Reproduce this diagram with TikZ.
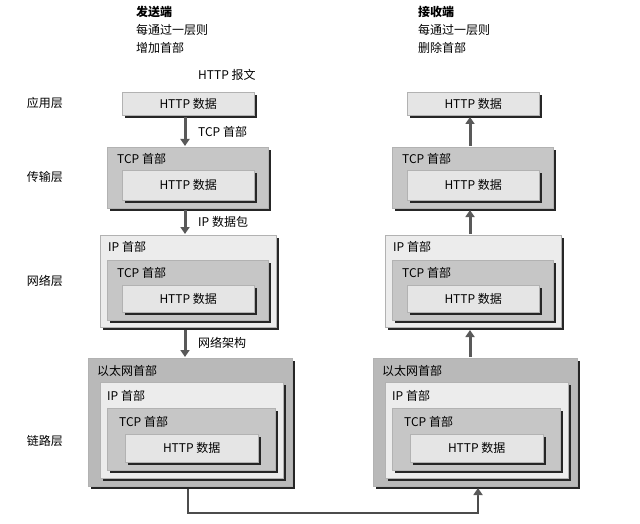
\documentclass[tikz,border=0pt]{standalone}
\usepackage{fontspec}
\setmainfont{Noto Sans CJK SC}
\usetikzlibrary{shadows,arrows.meta}
\begin{document}
\begin{tikzpicture}[x=1pt,y=-1pt,
  bx/.style={draw=gray!60,fill=#1,anchor=north west,inner sep=0,
    drop shadow={shadow xshift=2.5pt,shadow yshift=-2.5pt,fill=gray!30!black,opacity=1}},
  lbl/.style={anchor=west,font=\fontsize{12}{14}\selectfont,inner sep=0},
  txt/.style={font=\fontsize{12}{14}\selectfont,inner sep=1pt},
  flow/.style={line width=3pt,draw=gray!70!black,-{Triangle[length=7pt,width=9pt]}},
  link/.style={line width=1.8pt,draw=gray!60!black}]
\useasboundingbox (0,0) rectangle (640,524);
% headers
\node[txt,anchor=west,font=\fontsize{12}{14}\selectfont\bfseries] (s1) at (135,12) {发送端};
\node[txt,anchor=west] (s2) at (135,30) {每通过一层则};
\node[txt,anchor=west] (s3) at (135,48) {增加首部};
\node[txt,anchor=west,font=\fontsize{12}{14}\selectfont\bfseries] (r1) at (417,12) {接收端};
\node[txt,anchor=west] (r2) at (417,30) {每通过一层则};
\node[txt,anchor=west] (r3) at (417,48) {删除首部};
\node[txt,anchor=west] (msg) at (197,75) {HTTP 报文};
% layer labels
\node[txt] (L1) at (45,103) {应用层};
\node[txt] (L2) at (45,177) {传输层};
\node[txt] (L3) at (45,281) {网络层};
\node[txt] (L4) at (45,441) {链路层};
\foreach \s/\dx in {a/0,b/285}{
 \node[bx=gray!20,minimum width=132pt,minimum height=23pt] (\s app) at (122+\dx,92) {};
 \node[txt] at (\s app.center) {HTTP 数据};
 \node[bx=gray!45,minimum width=161pt,minimum height=61pt] (\s tcp) at (107+\dx,147) {};
 \node[lbl] at (117+\dx,159) {TCP 首部};
 \node[bx=gray!20,minimum width=132pt,minimum height=30pt] (\s tcph) at (122+\dx,170) {};
 \node[txt] at (\s tcph.center) {HTTP 数据};
 \node[bx=gray!15,minimum width=176pt,minimum height=92pt] (\s ip) at (100+\dx,235) {};
 \node[lbl] at (108+\dx,247) {IP 首部};
 \node[bx=gray!45,minimum width=161pt,minimum height=60pt] (\s iptcp) at (107+\dx,260) {};
 \node[lbl] at (117+\dx,273) {TCP 首部};
 \node[bx=gray!20,minimum width=132pt,minimum height=27pt] (\s iph) at (122+\dx,285) {};
 \node[txt] at (\s iph.center) {HTTP 数据};
 \node[bx=gray!55,minimum width=204pt,minimum height=128pt] (\s eth) at (88+\dx,358) {};
 \node[lbl] at (97+\dx,371) {以太网首部};
 \node[bx=gray!15,minimum width=183pt,minimum height=96pt] (\s eip) at (100+\dx,382) {};
 \node[lbl] at (107+\dx,396) {IP 首部};
 \node[bx=gray!45,minimum width=168pt,minimum height=62pt] (\s etcp) at (107+\dx,408) {};
 \node[lbl] at (119+\dx,422) {TCP 首部};
 \node[bx=gray!20,minimum width=133pt,minimum height=28pt] (\s eh) at (125+\dx,434) {};
 \node[txt] at (\s eh.center) {HTTP 数据};
}
\draw[flow] (185,117) -- (185,146);
\draw[flow] (185,210) -- (185,234);
\draw[flow] (185,330) -- (185,357);
\node[txt,anchor=west] (t1) at (197,132) {TCP 首部};
\node[txt,anchor=west] (t2) at (197,222) {IP 数据包};
\node[txt,anchor=west] (t3) at (197,343) {网络架构};
\draw[flow] (470,146) -- (470,117);
\draw[flow] (470,234) -- (470,210);
\draw[flow] (470,357) -- (470,330);
\coordinate (c1) at (188,513);
\coordinate (c2) at (478,513);
\draw[link] (188,489) -- (c1) -- (c2) -- (478,494);
\draw[flow,line width=1.8pt] (478,496) -- (478,488);
\end{tikzpicture}
\end{document}
